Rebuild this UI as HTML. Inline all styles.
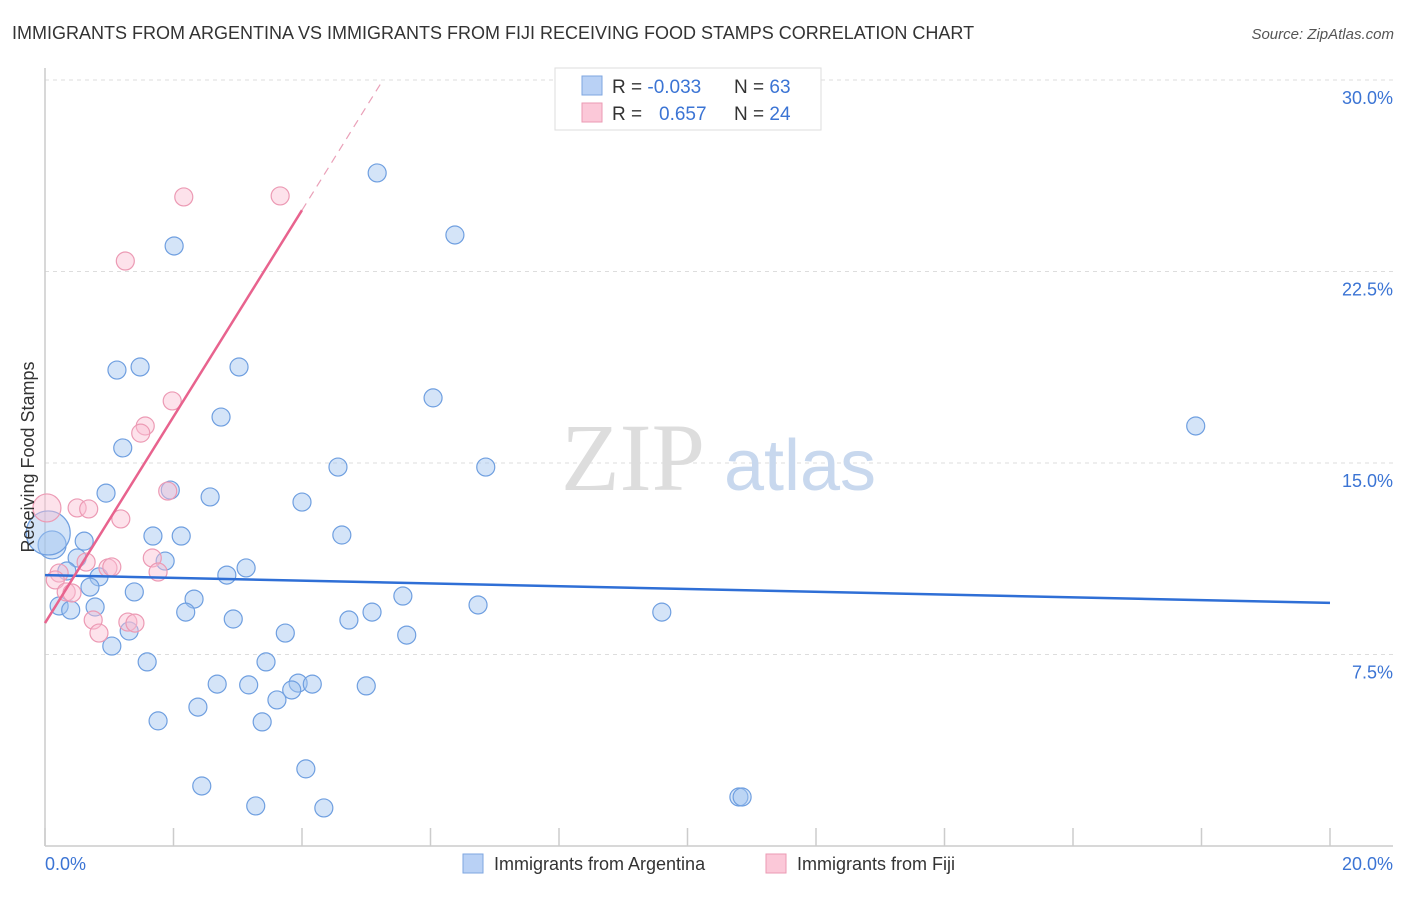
<!DOCTYPE html>
<html><head><meta charset="utf-8"><style>
body{margin:0;background:#fff;font-family:"Liberation Sans",sans-serif}
</style></head><body>
<svg width="1406" height="892" xmlns="http://www.w3.org/2000/svg" font-family="Liberation Sans, sans-serif">
<text x="12" y="39" font-size="18" fill="#333">IMMIGRANTS FROM ARGENTINA VS IMMIGRANTS FROM FIJI RECEIVING FOOD STAMPS CORRELATION CHART</text>
<text x="1394" y="39" font-size="15" fill="#555" font-style="italic" text-anchor="end">Source: ZipAtlas.com</text>
<g id="grid"></g>
<g><text x="633" y="490" font-size="96" font-family="Liberation Serif, serif" fill="#ddd" text-anchor="middle">ZIP</text><text x="800" y="490" font-size="72" fill="#c8d8ee" text-anchor="middle">atlas</text></g>
<line x1="45" y1="68" x2="45" y2="846" stroke="#ccc" stroke-width="1.5"/>
<line x1="45" y1="846" x2="1393" y2="846" stroke="#ccc" stroke-width="1.5"/>
<g id="ticks"></g>
<g id="pts"></g>
<g id="lines"></g>
<text transform="translate(34,457) rotate(-90)" font-size="18" fill="#333" text-anchor="middle">Receiving Food Stamps</text>
<text x="45" y="870" font-size="18" fill="#3b74d4">0.0%</text>
<text x="1393" y="870" font-size="18" fill="#3b74d4" text-anchor="end">20.0%</text>
<g>
<rect x="555" y="68" width="266" height="62" fill="#fff" stroke="#ddd"/>
<rect x="582" y="76" width="20" height="19" fill="#b9d1f5" stroke="#7ea6e0"/>
<rect x="582" y="103" width="20" height="19" fill="#fbc8d8" stroke="#eb9ab3"/>
<text x="612" y="93" font-size="19" fill="#333">R = <tspan fill="#3b74d4">-0.033</tspan></text>
<text x="734" y="93" font-size="19" fill="#333">N = <tspan fill="#3b74d4">63</tspan></text>
<text x="612" y="120" font-size="19" fill="#333">R = <tspan fill="#3b74d4" x="659">0.657</tspan></text>
<text x="734" y="120" font-size="19" fill="#333">N = <tspan fill="#3b74d4">24</tspan></text>
</g>
<g>
<rect x="463" y="854" width="20" height="19" fill="#b9d1f5" stroke="#7ea6e0"/>
<text x="494" y="870" font-size="18" fill="#333">Immigrants from Argentina</text>
<rect x="766" y="854" width="20" height="19" fill="#fbc8d8" stroke="#eb9ab3"/>
<text x="797" y="870" font-size="18" fill="#333">Immigrants from Fiji</text>
</g>
</svg>
<script>
const yTicks=[7.5,15,22.5,30];
const yTickLabels=["7.5%","15.0%","22.5%","30.0%"];
const xTicks=[0,2,4,6,8,10,12,14,16,18,20];
const argX=[5.17,6.38,2.01,1.12,1.48,3.02,6.04,17.91,2.74,1.21,4.56,6.86,0.95,1.95,2.57,4.0,4.62,1.68,2.12,0.61,0.11,0.05,0.5,1.87,0.34,0.84,3.13,2.83,0.7,1.39,2.32,5.57,0.22,0.40,0.78,2.19,6.74,5.09,9.6,2.93,4.73,1.31,3.74,5.63,1.04,1.59,3.44,2.68,3.17,3.94,4.16,5.0,3.84,3.61,2.38,1.76,3.38,4.06,2.44,3.28,4.34,10.8,10.85];
const argY=[26.36,23.93,23.5,18.64,18.76,18.76,17.55,16.45,16.8,15.59,14.84,14.84,13.82,13.94,13.67,13.47,12.18,12.14,12.14,11.94,11.79,12.26,11.28,11.16,10.77,10.54,10.89,10.61,10.14,9.95,9.67,9.79,9.4,9.24,9.36,9.16,9.44,9.16,9.16,8.89,8.85,8.42,8.34,8.26,7.83,7.21,7.21,6.34,6.31,6.38,6.34,6.27,6.11,5.72,5.44,4.9,4.86,3.02,2.35,1.57,1.49,1.92,1.92];
const argR=[9,9,9,9,9,9,9,9,9,9,9,9,9,9,9,9,9,9,9,9,14,22,9,9,9,9,9,9,9,9,9,9,9,9,9,9,9,9,9,9,9,9,9,9,9,9,9,9,9,9,9,9,9,9,9,9,9,9,9,9,9,9,9];
const fijiX=[2.16,3.66,1.25,1.98,1.56,1.49,1.91,0.03,0.5,0.68,1.18,0.64,1.67,0.98,1.04,1.76,0.22,0.16,0.33,0.42,0.75,1.29,1.4,0.84];
const fijiY=[25.42,25.46,22.91,17.43,16.45,16.17,13.9,13.24,13.24,13.2,12.81,11.12,11.28,10.89,10.93,10.73,10.69,10.42,9.95,9.91,8.85,8.77,8.73,8.34];
const fijiR=[9,9,9,9,9,9,9,14,9,9,9,9,9,9,9,9,9,9,9,9,9,9,9,9];
const argTrend=[10.61,9.52];
const fijiTrend=[8.73,24.9,30];
const fijiTrendX=[0,4.0,5.26];
const NS="http://www.w3.org/2000/svg";
const X=v=>45+v/20*1285;
const Y=v=>846-v/30*766;
function mk(t,a,p){const e=document.createElementNS(NS,t);for(const k in a)e.setAttribute(k,a[k]);p.appendChild(e);return e;}
const grid=document.getElementById('grid'),ticks=document.getElementById('ticks'),pts=document.getElementById('pts'),lines=document.getElementById('lines');
yTicks.forEach((v,i)=>{
 const l=mk('line',{x1:45,x2:1393,y1:Y(v),y2:Y(v),stroke:'#ddd','stroke-dasharray':'4,4'},grid);
 
 
 const t=mk('text',{x:1393,y:Y(v)+24,'font-size':18,fill:'#3b74d4','text-anchor':'end'},ticks);
 t.textContent=yTickLabels[i];
 
 
});
xTicks.forEach(v=>{
 const l=mk('line',{x1:X(v),x2:X(v),y1:828,y2:846,stroke:'#ccc','stroke-width':1.5},ticks);
 
 
});
argX.forEach((v,i)=>{
 const c=mk('circle',{cx:X(v),cy:Y(argY[i]),r:argR[i],fill:'rgba(160,195,240,0.45)',stroke:'#6f9fe0','stroke-width':1.2},pts);
 
 
});
fijiX.forEach((v,i)=>{
 const c=mk('circle',{cx:X(v),cy:Y(fijiY[i]),r:fijiR[i],fill:'rgba(250,190,210,0.45)',stroke:'#ec9ab4','stroke-width':1.2},pts);
 
 
});
const bl=mk('line',{x1:X(0),y1:Y(argTrend[0]),x2:X(20),y2:Y(argTrend[1]),stroke:'#2f6fd6','stroke-width':2.5},lines);


const pl=mk('line',{x1:X(fijiTrendX[0]),y1:Y(fijiTrend[0]),x2:X(fijiTrendX[1]),y2:Y(fijiTrend[1]),stroke:'#e8638e','stroke-width':2.5},lines);


const pd=mk('line',{x1:X(fijiTrendX[1]),y1:Y(fijiTrend[1]),x2:X(fijiTrendX[2]),y2:Y(fijiTrend[2]),stroke:'#eaa0b8','stroke-width':1.2,'stroke-dasharray':'8,6'},lines);


</script>
</body></html>
